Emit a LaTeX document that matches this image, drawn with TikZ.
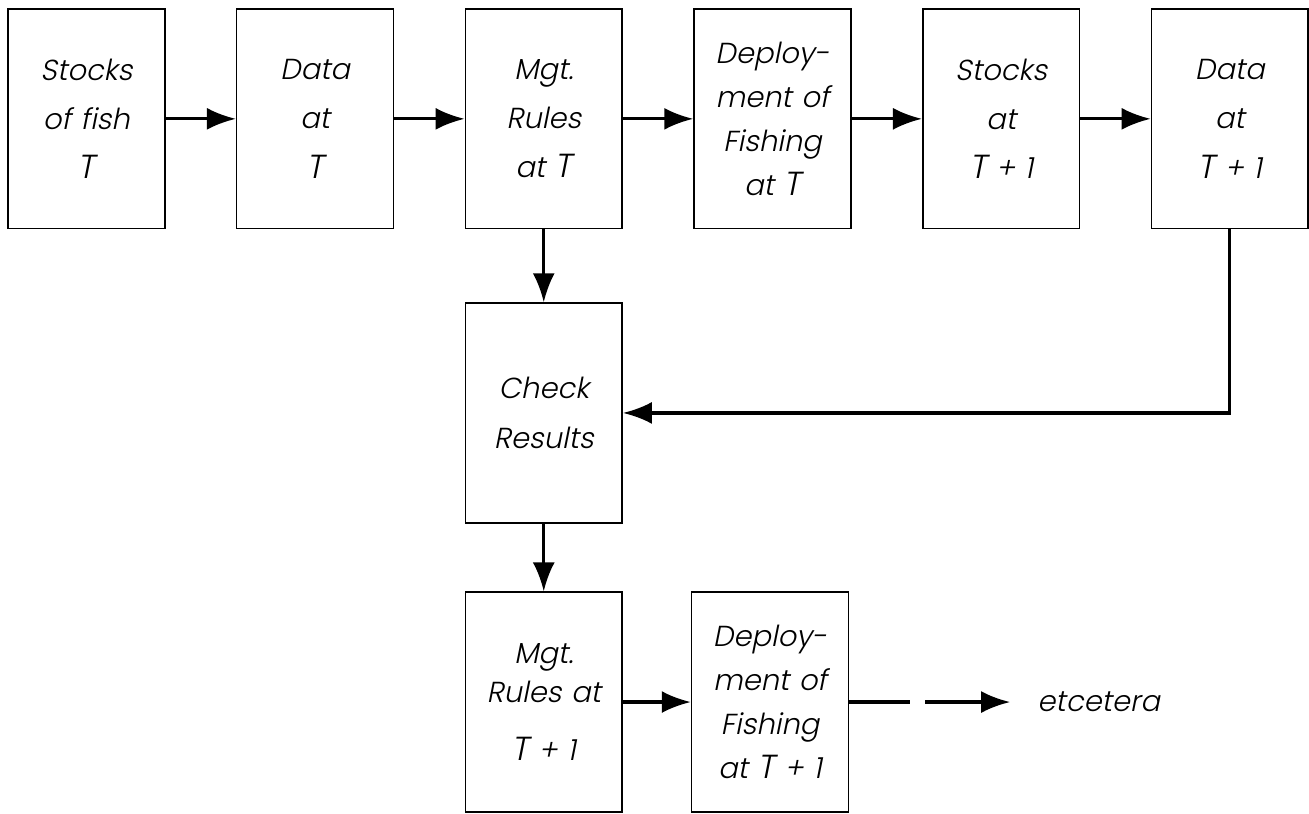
\documentclass[tikz,border=0pt]{standalone}
\usepackage{fontspec}
\usepackage{tikz}
\usetikzlibrary{shapes,arrows,arrows.meta,positioning}
\newfontfamily\lblfont[FakeSlant=0.2]{Poppins Light}
\newcommand{\bigT}{{\fontsize{19}{19}\selectfont T}}

\begin{document}
\begin{tikzpicture}[node distance=4.58cm, auto,
      block/.style={rectangle, draw, line width=0.9pt, inner sep=2pt, text width=2.9cm, align=center, minimum width=3.14cm, minimum height=4.4cm, font=\lblfont\fontsize{16.5}{28}\selectfont},
      tight/.style={font=\lblfont\fontsize{16.5}{25}\selectfont},
      line/.style={draw, -{Latex[length=0.58cm, width=0.44cm]}, line width=1.8pt}]

      % Nodes
      \node [block] (stocks) {Stocks\\of fish\\\bigT};
      \node [block, right of=stocks] (data) {Data\\at\\\bigT};
      \node [block, right of=data] (rules) {Mgt.\\Rules\\at \bigT};
      \node [block, tight, right of=rules] (deploy) {Deploy-\\ment of\\Fishing\\at \bigT};
      \node [block, right of=deploy] (stocks2) {Stocks\\at\\\bigT{} + 1};
      \node [block, right of=stocks2] (data2) {Data\\at\\\bigT{} + 1};
      \node [block, below of=rules, node distance=5.89cm] (check) {Check\\Results};
      \node [block, font=\lblfont\fontsize{16.5}{22}\selectfont, below of=check, node distance=5.79cm] (rules2) {Mgt.\\Rules at\\[11pt]\bigT{} + 1};
      \node [block, tight, right of=rules2, node distance=4.53cm] (deploy2) {Deploy-\\ment of\\Fishing\\at \bigT{} + 1};
      \node [right of=deploy2, node distance=4.81cm, anchor=west, inner xsep=0.54cm, font=\lblfont\fontsize{16.5}{20}\selectfont] (etc) {etcetera};

      % Edges
      \path [line] (stocks) -- (data);
      \path [line] (data) -- (rules);
      \path [line] (rules) -- (deploy);
      \path [line] (deploy) -- (stocks2);
      \path [line] (stocks2) -- (data2);
      \path [line] (rules) -- (check);
      \path [line] (data2) |- (check);
      \path [line] (check) -- (rules2);
      \path [line] (rules2) -- (deploy2);
      \path [line, dash pattern=on 1.22cm off 0.3cm on 5cm off 0cm] (deploy2) -- (etc);

      \useasboundingbox (-1.73,2.38) rectangle (24.45,-13.92);
    \end{tikzpicture}
\end{document}
